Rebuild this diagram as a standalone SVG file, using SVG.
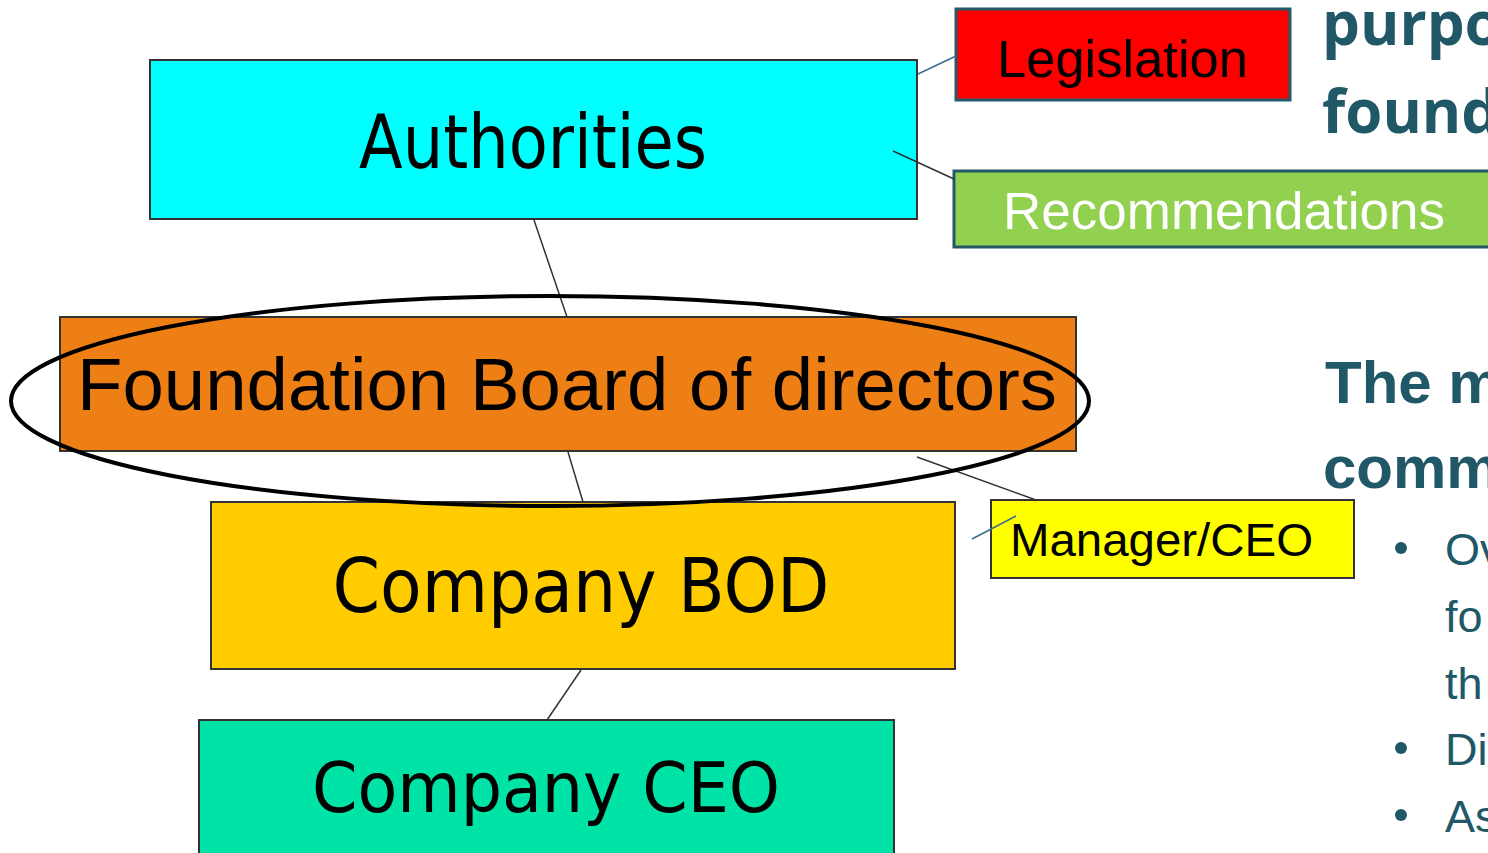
<svg xmlns="http://www.w3.org/2000/svg" width="1488" height="853" viewBox="0 0 1488 853">
<style>
.box{stroke:#333;stroke-width:2}
.tbox{stroke:#24596a;stroke-width:3}
.v{font-family:"DejaVu Sans","Liberation Sans",sans-serif;font-stretch:condensed;fill:#000}
.a{font-family:"Liberation Sans",Arial,sans-serif;fill:#000}
.conn{stroke:#333;stroke-width:1.5;fill:none}
.connt{stroke:#3a7090;stroke-width:1.5;fill:none}
.side{fill:#215868}
.hb{font-family:"Open Sans","Liberation Sans",sans-serif;font-weight:bold}
.ab{font-family:"Liberation Sans",Arial,sans-serif;font-weight:bold}
.ar{font-family:"Liberation Sans",Arial,sans-serif}
</style>
<rect width="1488" height="853" fill="#fff"/>
<g id="authorities">
<rect class="box" x="150" y="60" width="767" height="159" fill="#00FFFF"/>
<text class="v" x="533" y="168" font-size="74" text-anchor="middle" textLength="348" lengthAdjust="spacingAndGlyphs">Authorities</text>
</g>
<g id="legislation">
<rect class="tbox" x="956" y="9" width="334" height="91" fill="#FF0000"/>
<text class="a" x="997" y="77" font-size="51" textLength="251" lengthAdjust="spacingAndGlyphs">Legislation</text>
</g>
<g id="recommendations">
<rect class="tbox" x="954" y="171" width="560" height="76" fill="#92D050"/>
<text class="a" x="1003" y="229" font-size="51" style="fill:#fff" textLength="442" lengthAdjust="spacingAndGlyphs">Recommendations</text>
</g>
<g id="foundation-board">
<rect class="box" x="60" y="317" width="1016" height="134" fill="#EE7F14"/>
<text class="a" x="77" y="410" font-size="74" textLength="980" lengthAdjust="spacingAndGlyphs">Foundation Board of directors</text>
</g>
<g id="company-bod">
<rect class="box" x="211" y="502" width="744" height="167" fill="#FFCC00"/>
<text class="v" x="581" y="612" font-size="74" text-anchor="middle" textLength="497" lengthAdjust="spacingAndGlyphs">Company BOD</text>
</g>
<g id="manager-ceo">
<rect class="box" x="991" y="500" width="363" height="78" fill="#FFFF00"/>
<text class="a" x="1010" y="556" font-size="47" textLength="303" lengthAdjust="spacingAndGlyphs">Manager/CEO</text>
</g>
<g id="company-ceo">
<rect class="box" x="199" y="720" width="695" height="150" fill="#00E3A6"/>
<text class="v" x="546" y="812" font-size="70" text-anchor="middle" textLength="468" lengthAdjust="spacingAndGlyphs">Company CEO</text>
</g>
<g id="connectors">
<line class="conn" x1="534" y1="220" x2="567" y2="317"/>
<line class="conn" x1="568" y1="452" x2="583" y2="502"/>
<line class="conn" x1="581" y1="670" x2="547" y2="720"/>
<line class="connt" x1="918" y1="74" x2="956" y2="56"/>
<line class="conn" x1="893" y1="151" x2="954" y2="179"/>
<line class="conn" x1="917" y1="457" x2="1036" y2="500"/>
<line class="connt" x1="972" y1="539" x2="1016" y2="516"/>
</g>
<ellipse cx="550" cy="401" rx="539" ry="105" fill="none" stroke="#000" stroke-width="4"/>
<g id="side-text" class="side">
<text class="hb" x="1322" y="45" font-size="60">purpo</text>
<text class="hb" x="1322" y="133" font-size="60">found</text>
<text class="ab" x="1325" y="403" font-size="60">The m</text>
<text class="ab" x="1323" y="488" font-size="60">comm</text>
<g class="ar" font-size="45">
<circle cx="1401" cy="548" r="6"/>
<text x="1445" y="565">Ov</text>
<text x="1445" y="632">fo</text>
<text x="1445" y="699">th</text>
<circle cx="1401" cy="748" r="6"/>
<text x="1445" y="765">Di</text>
<circle cx="1401" cy="815" r="6"/>
<text x="1445" y="832">As</text>
</g>
</g>
</svg>
